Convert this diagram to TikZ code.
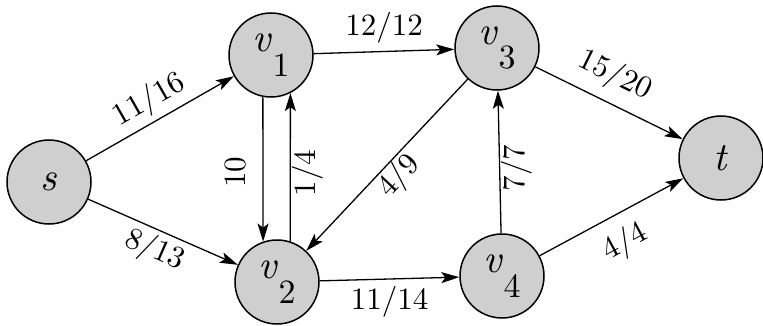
\documentclass[tikz,border=0pt]{standalone}
\usepackage{fontspec}
\setmainfont{lmroman10-regular.otf}[ItalicFont=lmroman10-italic.otf]
\usetikzlibrary{arrows.meta}
\definecolor{nodefill}{HTML}{CFCFCF}
\newcommand{\vsub}[1]{\textit{v}\kern0.5pt\raisebox{-0.62em}{\fontsize{34}{34}\selectfont #1}}
\tikzset{
  vert/.style={circle, draw=black, line width=1.5pt, fill=nodefill, minimum size=84pt, inner sep=0pt,
    font=\fontsize{40}{40}\selectfont},
  edge/.style={line width=1.3pt, -{Stealth[length=18pt,width=11pt,inset=4pt]}},
  lab/.style={font=\fontsize{31}{31}\selectfont, inner sep=3pt}
}
\begin{document}
\begin{tikzpicture}[x=1pt,y=-1pt]
\useasboundingbox (0,0) rectangle (763,326);
\node[vert] (s)  at (49,182) {\textit{s}};
\node[vert] (v1) at (271,55) {\vsub{1}};
\node[vert] (v2) at (277,282) {\vsub{2}};
\node[vert] (v3) at (497,48) {\vsub{3}};
\node[vert] (v4) at (502,276) {\vsub{4}};
\node[vert] (t)  at (721,158) {\textit{t}};

\draw[edge] (s) -- node[lab, sloped, above, yshift=2pt] {11/16} (v1);
\draw[edge] (s) -- node[lab, sloped, below, yshift=-1pt] {8/13} (v2);
\draw[edge] (v1) -- node[lab, above, yshift=5pt] {12/12} (v3);
\draw[edge] (v1.259) -- node[lab, midway, xshift=-27pt, yshift=-3pt, rotate=90] {10} (v2.109);
\draw[edge] (v2.72) -- node[lab, midway, xshift=17pt, yshift=-6pt, rotate=90] {1/4} (v1.297);
\draw[edge] (v3) -- node[lab, sloped, below, inner sep=1pt] {4/9} (v2);
\draw[edge] (v2) -- node[lab, below, yshift=-4pt] {11/14} (v4);
\draw[edge] (v4) -- node[lab, midway, xshift=17pt, yshift=-6pt, rotate=90] {7/7} (v3);
\draw[edge] (v3) -- node[lab, sloped, above, yshift=8pt, pos=0.46] {15/20} (t);
\draw[edge] (v4) -- node[lab, sloped, below, yshift=-10pt, pos=0.5] {4/4} (t);
\end{tikzpicture}
\end{document}
